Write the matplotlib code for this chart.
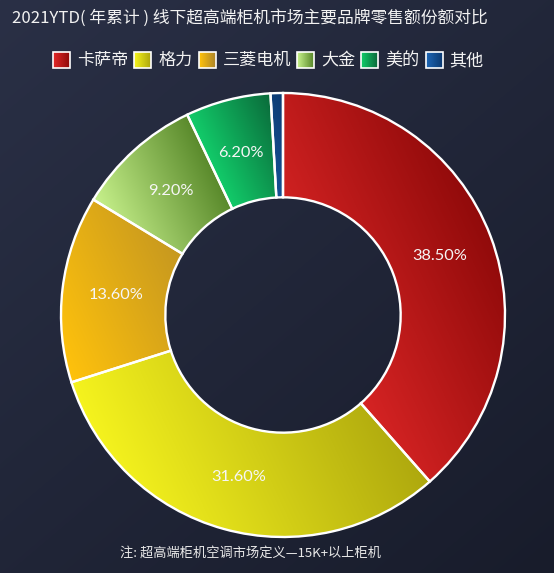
import numpy as np
import matplotlib
matplotlib.use("Agg")
import matplotlib.pyplot as plt
from matplotlib.colors import to_rgb
from matplotlib.patches import Rectangle

plt.rcParams['font.family'] = ['Noto Sans CJK SC', 'DejaVu Sans']

title = "2021YTD( 年累计 ) 线下超高端柜机市场主要品牌零售额份额对比"
brands = ["卡萨帝", "格力", "三菱电机", "大金", "美的", "其他"]
shares = [38.5, 31.6, 13.6, 9.2, 6.2, 0.9]
light_cols = ["#e22828", "#f6f41e", "#ffc20c", "#c8f28c", "#12cc6a", "#1e66b4"]
dark_cols = ["#900a0a", "#aea80e", "#ae8628", "#58882a", "#0a6a3a", "#0c3a72"]
note = "注: 超高端柜机空调市场定义—15K+以上柜机"

W, H = 554, 573
fig = plt.figure(figsize=(W / 100, H / 100), dpi=100)

# background
bg = fig.add_axes([0, 0, 1, 1])
bg.set_xlim(0, W)
bg.set_ylim(H, 0)
bg.axis('off')
yy, xx = np.mgrid[0:H, 0:W]
t = np.clip(0.45 * xx / W + 0.55 * yy / H, 0, 1)[..., None]
c0 = np.array(to_rgb("#2a3046"))
c1 = np.array(to_rgb("#181c2b"))
bg.imshow(c0 * (1 - t) + c1 * t, extent=(0, W, H, 0), aspect='auto', zorder=0)

# donut
cx, cy, R = 283, 315, 222
lim = 1.03
half = R * lim
ax = fig.add_axes([(cx - half) / W, (H - cy - half) / H, 2 * half / W, 2 * half / H])

wedges, texts, autotexts = ax.pie(
    shares, startangle=90, counterclock=False, radius=1,
    wedgeprops=dict(width=0.47, edgecolor='white', linewidth=1.7),
    autopct=lambda p: f"{p:.2f}%" if p > 1 else "",
    pctdistance=0.755,
    textprops=dict(color="#f6f6f6", fontsize=11.8,
                   family=['Lato', 'DejaVu Sans']))
ax.set_xlim(-lim, lim)
ax.set_ylim(-lim, lim)
ax.set_aspect('equal')
ax.axis('off')

N = 600
g = np.linspace(-lim, lim, N)
X, Y = np.meshgrid(g, g)
ang = np.deg2rad(25)
dx, dy = np.cos(ang), np.sin(ang)
P = X * dx + Y * dy
for w, lc, dc in zip(wedges, light_cols, dark_cols):
    v = w.get_path().vertices
    pv = v[:, 0] * dx + v[:, 1] * dy
    tt = np.clip((P - pv.min()) / (pv.max() - pv.min()), 0, 1)[..., None]
    img = np.array(to_rgb(lc)) * (1 - tt) + np.array(to_rgb(dc)) * tt
    im = ax.imshow(img, extent=(-lim, lim, -lim, lim), origin='lower', zorder=1)
    im.set_clip_path(w)
    w.set_facecolor('none')
    w.set_zorder(3)
for at in autotexts:
    at.set_zorder(5)
ax.set_xlim(-lim, lim)
ax.set_ylim(-lim, lim)

# title
bg.text(12, 18, title, color="#f2f2f2", fontsize=12.1, va='center', ha='left', zorder=5)

# legend
fig.canvas.draw()
renderer = fig.canvas.get_renderer()
x = 53
ly = 60
sq_w, sq_h = 17, 16
for name, lc, dc in zip(brands, light_cols, dark_cols):
    gx = np.linspace(0, 1, 20)[None, :, None]
    simg = np.array(to_rgb(lc)) * (1 - gx) + np.array(to_rgb(dc)) * gx
    simg = np.repeat(simg, 20, axis=0)
    bg.imshow(simg, extent=(x, x + sq_w, ly + sq_h / 2, ly - sq_h / 2), aspect='auto', zorder=4)
    bg.add_patch(Rectangle((x, ly - sq_h / 2), sq_w, sq_h, facecolor='none',
                           edgecolor='white', linewidth=1.2, zorder=5))
    tx = bg.text(x + sq_w + 7, ly, name, color="#f2f2f2", fontsize=12.3,
                 va='center', ha='left', zorder=5)
    bb = tx.get_window_extent(renderer=renderer)
    x = x + sq_w + 7 + bb.width + 6

bg.set_xlim(0, W)
bg.set_ylim(H, 0)

# note
bg.text(251, 553, note, color="#e8e8e8", fontsize=9.5, va='center', ha='center', zorder=5)

fig.savefig("out.png", dpi=100)
